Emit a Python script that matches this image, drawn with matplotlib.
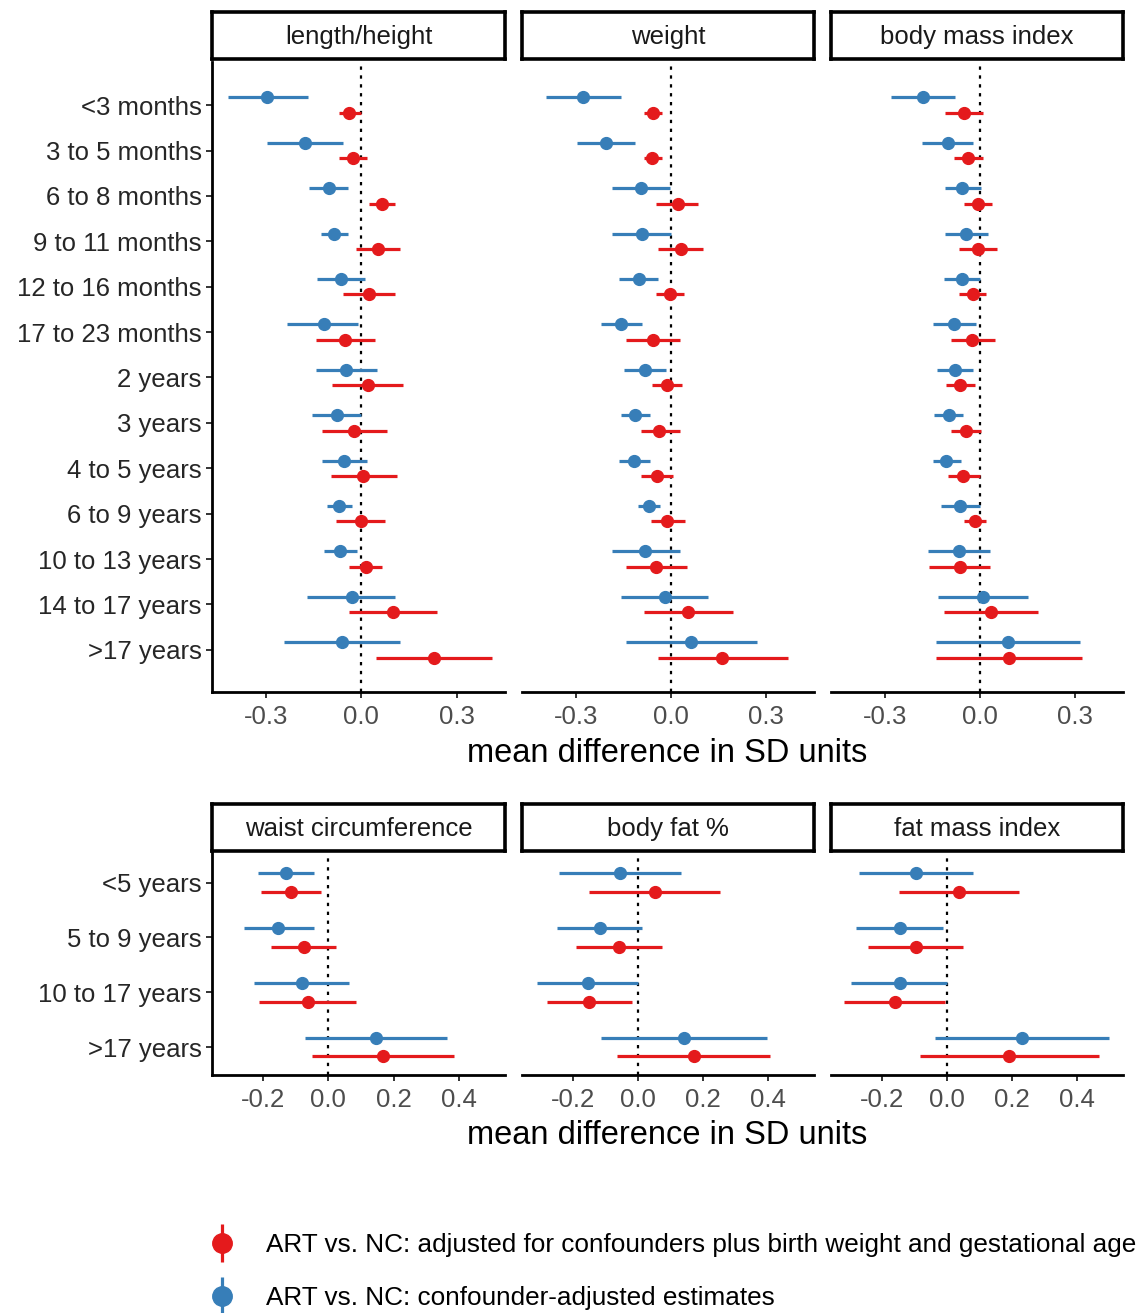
import matplotlib
matplotlib.use("Agg")
import matplotlib.pyplot as plt
from matplotlib.lines import Line2D
from matplotlib.legend_handler import HandlerTuple
import numpy as np

plt.rcParams['font.family'] = ['Liberation Sans', 'DejaVu Sans']

BLUE = '#377EB8'
RED = '#E41A1C'

# ---- data ----
top_labels = ["<3 months", "3 to 5 months", "6 to 8 months", "9 to 11 months",
              "12 to 16 months", "17 to 23 months", "2 years", "3 years",
              "4 to 5 years", "6 to 9 years", "10 to 13 years", "14 to 17 years",
              ">17 years"]
top_facets = ["length/height", "weight", "body mass index"]

length_conf_est = [-0.297, -0.176, -0.103, -0.085, -0.065, -0.119, -0.048, -0.076, -0.054, -0.069, -0.067, -0.031, -0.060]
length_conf_lo = [-0.420, -0.296, -0.164, -0.128, -0.139, -0.233, -0.143, -0.154, -0.123, -0.107, -0.117, -0.170, -0.243]
length_conf_hi = [-0.167, -0.057, -0.041, -0.041, 0.012, -0.009, 0.049, 0.000, 0.017, -0.030, -0.015, 0.106, 0.123]
length_bw_est = [-0.038, -0.027, 0.065, 0.052, 0.023, -0.051, 0.020, -0.022, 0.006, 0.000, 0.015, 0.099, 0.230]
length_bw_lo = [-0.070, -0.070, 0.025, -0.018, -0.059, -0.143, -0.091, -0.123, -0.096, -0.081, -0.039, -0.039, 0.045]
length_bw_hi = [-0.002, 0.017, 0.106, 0.123, 0.106, 0.043, 0.132, 0.081, 0.112, 0.075, 0.065, 0.238, 0.412]

weight_conf_est = [-0.277, -0.204, -0.094, -0.091, -0.102, -0.157, -0.081, -0.112, -0.115, -0.070, -0.081, -0.020, 0.064]
weight_conf_lo = [-0.395, -0.296, -0.186, -0.186, -0.163, -0.220, -0.147, -0.157, -0.163, -0.105, -0.186, -0.157, -0.142]
weight_conf_hi = [-0.156, -0.112, -0.002, 0.000, -0.039, -0.091, -0.015, -0.065, -0.065, -0.034, 0.029, 0.118, 0.271]
weight_bw_est = [-0.055, -0.058, 0.021, 0.031, -0.004, -0.057, -0.011, -0.036, -0.044, -0.011, -0.047, 0.055, 0.163]
weight_bw_lo = [-0.084, -0.084, -0.047, -0.042, -0.047, -0.142, -0.058, -0.094, -0.094, -0.063, -0.142, -0.084, -0.042]
weight_bw_hi = [-0.028, -0.028, 0.087, 0.103, 0.040, 0.029, 0.035, 0.029, 0.008, 0.045, 0.050, 0.197, 0.371]

bmi_conf_est = [-0.180, -0.102, -0.055, -0.044, -0.057, -0.081, -0.079, -0.097, -0.106, -0.064, -0.066, 0.009, 0.088]
bmi_conf_lo = [-0.282, -0.184, -0.109, -0.109, -0.112, -0.149, -0.135, -0.144, -0.149, -0.123, -0.165, -0.133, -0.138]
bmi_conf_hi = [-0.080, -0.021, 0.005, 0.027, 0.000, -0.013, -0.022, -0.054, -0.059, -0.001, 0.032, 0.153, 0.315]
bmi_bw_est = [-0.049, -0.036, -0.006, -0.006, -0.022, -0.025, -0.064, -0.044, -0.052, -0.016, -0.064, 0.035, 0.091]
bmi_bw_lo = [-0.109, -0.082, -0.050, -0.067, -0.067, -0.091, -0.107, -0.091, -0.102, -0.050, -0.159, -0.112, -0.138]
bmi_bw_hi = [0.010, 0.010, 0.037, 0.053, 0.019, 0.048, -0.016, 0.003, -0.001, 0.019, 0.032, 0.184, 0.322]

bottom_labels = ["<5 years", "5 to 9 years", "10 to 17 years", ">17 years"]
bottom_facets = ["waist circumference", "body fat %", "fat mass index"]

waist_conf_est = [-0.130, -0.152, -0.080, 0.147]
waist_conf_lo = [-0.214, -0.257, -0.227, -0.071]
waist_conf_hi = [-0.043, -0.043, 0.064, 0.362]
waist_bw_est = [-0.113, -0.074, -0.063, 0.166]
waist_bw_lo = [-0.205, -0.176, -0.210, -0.051]
waist_bw_hi = [-0.022, 0.023, 0.085, 0.383]

fat_conf_est = [-0.055, -0.117, -0.153, 0.141]
fat_conf_lo = [-0.241, -0.247, -0.308, -0.114]
fat_conf_hi = [0.132, 0.013, 0.000, 0.397]
fat_bw_est = [0.053, -0.058, -0.149, 0.171]
fat_bw_lo = [-0.149, -0.191, -0.278, -0.063]
fat_bw_hi = [0.253, 0.074, -0.018, 0.406]

fmi_conf_est = [-0.093, -0.145, -0.145, 0.230]
fmi_conf_lo = [-0.268, -0.279, -0.293, -0.035]
fmi_conf_hi = [0.079, -0.012, 0.000, 0.496]
fmi_bw_est = [0.038, -0.096, -0.159, 0.192]
fmi_bw_lo = [-0.146, -0.242, -0.315, -0.081]
fmi_bw_hi = [0.222, 0.051, -0.007, 0.466]

top_data = [
    (length_conf_est, length_conf_lo, length_conf_hi, length_bw_est, length_bw_lo, length_bw_hi),
    (weight_conf_est, weight_conf_lo, weight_conf_hi, weight_bw_est, weight_bw_lo, weight_bw_hi),
    (bmi_conf_est, bmi_conf_lo, bmi_conf_hi, bmi_bw_est, bmi_bw_lo, bmi_bw_hi),
]
bottom_data = [
    (waist_conf_est, waist_conf_lo, waist_conf_hi, waist_bw_est, waist_bw_lo, waist_bw_hi),
    (fat_conf_est, fat_conf_lo, fat_conf_hi, fat_bw_est, fat_bw_lo, fat_bw_hi),
    (fmi_conf_est, fmi_conf_lo, fmi_conf_hi, fmi_bw_est, fmi_bw_lo, fmi_bw_hi),
]

W, H = 1142, 1313
fig = plt.figure(figsize=(W / 100, H / 100), dpi=100)

def rect(x0, y0, x1, y1):
    # pixel box (top-left origin) -> figure fraction
    return [x0 / W, 1 - y1 / H, (x1 - x0) / W, (y1 - y0) / H]

panel_x = [(212, 505), (522, 814), (831, 1123)]
DODGE = 0.17

def draw_row(data, labels, facets, y0, y1, sy0, sy1, xlim, ylim, xticks, xticklabels):
    n = len(labels)
    pos = np.arange(n)
    for k, (x0, x1) in enumerate(panel_x):
        ax = fig.add_axes(rect(x0, y0, x1, y1))
        ce, cl, ch, be, bl, bh = data[k]
        ax.axvline(0, color='black', ls=(0, (1.5, 2.5)), lw=1.6, zorder=1)
        ax.hlines(pos - DODGE, cl, ch, color=BLUE, lw=2.3, zorder=2)
        ax.plot(ce, pos - DODGE, 'o', color=BLUE, ms=8.5, zorder=3)
        ax.hlines(pos + DODGE, bl, bh, color=RED, lw=2.3, zorder=2)
        ax.plot(be, pos + DODGE, 'o', color=RED, ms=8.5, zorder=3)
        ax.set_xlim(*xlim)
        ax.set_ylim(*ylim)
        for s in ['top', 'right']:
            ax.spines[s].set_visible(False)
        for s in ['left', 'bottom']:
            ax.spines[s].set_linewidth(2.0)
            ax.spines[s].set_color('black')
        ax.set_xticks(xticks)
        ax.set_xticklabels(xticklabels, fontsize=18.5, color='#4D4D4D')
        ax.tick_params(axis='x', length=4.5, width=1.4, color='#333333', pad=5)
        ax.tick_params(axis='y', length=4.5, width=1.4, color='#333333', pad=3)
        if k == 0:
            ax.set_yticks(pos)
            ax.set_yticklabels(labels, fontsize=18.5, color='#262626')
        else:
            ax.set_yticks([])
            ax.spines['left'].set_visible(False)
        # facet strip
        sax = fig.add_axes(rect(x0, sy0, x1, sy1))
        sax.set_xticks([])
        sax.set_yticks([])
        for s in sax.spines.values():
            s.set_linewidth(2.6)
            s.set_color('black')
        sax.text(0.5, 0.47, facets[k], ha='center', va='center', fontsize=18.5,
                 color='#1A1A1A', transform=sax.transAxes)

draw_row(top_data, top_labels, top_facets, 62, 692, 12, 59,
         (-0.47, 0.452), (12.93, -0.95),
         [-0.3, 0.0, 0.3], ['-0.3', '0.0', '0.3'])
draw_row(bottom_data, bottom_labels, bottom_facets, 853, 1075, 804, 851,
         (-0.355, 0.54), (3.51, -0.54),
         [-0.2, 0.0, 0.2, 0.4], ['-0.2', '0.0', '0.2', '0.4'])

fig.text(667 / W, 1 - 753 / H, 'mean difference in SD units', ha='center', va='center',
         fontsize=23.5, color='black')
fig.text(667 / W, 1 - 1135 / H, 'mean difference in SD units', ha='center', va='center',
         fontsize=23.5, color='black')

# legend: point-range key (vertical bar with dot on top)
def key(color):
    bar = Line2D([], [], color=color, marker='|', ms=28, mew=2.3, ls='none')
    dot = Line2D([], [], color=color, marker='o', ms=14, ls='none')
    return (bar, dot)

fig.legend([key(RED), key(BLUE)],
           ['ART vs. NC: adjusted for confounders plus birth weight and gestational age',
            'ART vs. NC: confounder-adjusted estimates'],
           handler_map={tuple: HandlerTuple(ndivide=1, pad=0)},
           loc='upper left', bbox_to_anchor=(206 / W, 1 - 1233 / H),
           frameon=False, fontsize=18.8, handlelength=1.2, handletextpad=1.1,
           labelspacing=1.1, borderpad=0, borderaxespad=0)

fig.savefig('out.png', dpi=100)
